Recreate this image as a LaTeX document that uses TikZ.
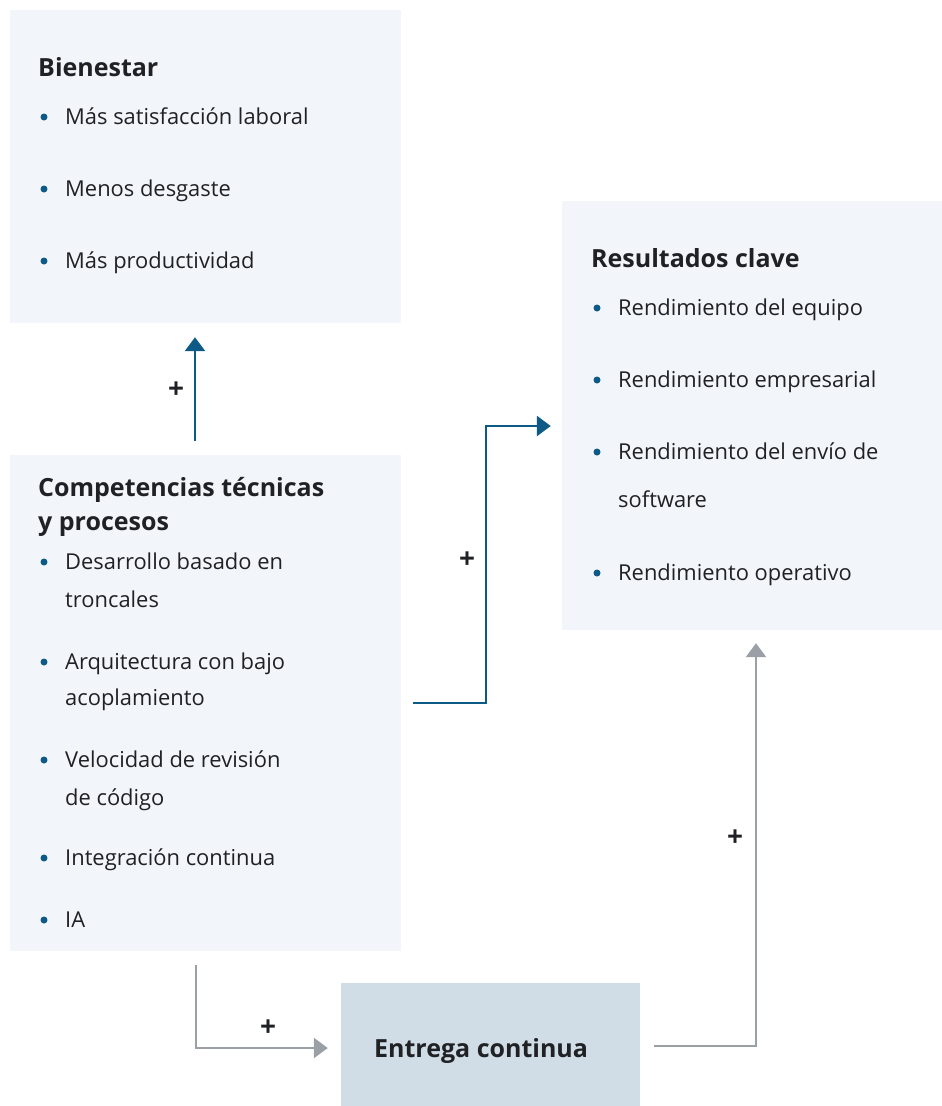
\documentclass[tikz,border=0pt]{standalone}
\usepackage{fontspec}
\setmainfont{Open Sans}
\usetikzlibrary{arrows.meta,positioning}
\definecolor{panelfill}{HTML}{F2F6FA}
\definecolor{hubfill}{HTML}{D0DDE6}
\definecolor{linkblue}{HTML}{0E5A87}
\definecolor{linkgray}{HTML}{9AA0A6}
\definecolor{ink}{HTML}{202124}
\tikzset{
  panel/.style={rectangle,fill=panelfill,draw=none,inner sep=0pt},
  hub/.style={rectangle,fill=hubfill,draw=none,inner sep=0pt},
  heading/.style={anchor=base west,inner sep=0pt,text=ink,font=\fontsize{25}{30}\selectfont\bfseries},
  entry/.style={anchor=base west,inner sep=0pt,text=ink,font=\fontsize{21.9}{26}\selectfont},
  dot/.style={circle,fill=linkblue,inner sep=0pt,minimum size=7pt},
  plus/.style={inner sep=0pt,text=ink,font=\fontsize{28}{32}\selectfont\bfseries},
  link/.style={draw=linkblue,line width=2.5pt,-{Triangle[width=20pt,length=14pt]}},
  flow/.style={draw=linkgray,line width=2.5pt,-{Triangle[width=20pt,length=14pt]}}
}
\begin{document}
\begin{tikzpicture}[x=1pt,y=-1pt]
\useasboundingbox (0,0) rectangle (942,1106);
% boxes
\node (wellbeing) [panel,minimum width=391pt,minimum height=313pt] at (205.5,166.5) {};
\node (outcomes) [panel,minimum width=380pt,minimum height=429pt] at (752,415.5) {};
\node (practices) [panel,minimum width=391pt,minimum height=496pt] at (205.5,703) {};
\node (delivery) [hub,minimum width=299pt,minimum height=123pt] at (490.5,1044.5) {};
%
\node (wellbeingTitle) [heading] at (38,76) {Bienestar};
\foreach \n/\y/\t in {w1/124/Más satisfacción laboral,w2/196/Menos desgaste,w3/268/Más productividad} {
  \node (\n) [entry] at (65,\y) {\t};
  \node (\n dot) [dot] at (44,\y-7) {};
}
%
\node (outcomesTitle) [heading] at (591,267) {Resultados clave};
\foreach \n/\y/\t in {o1/315/Rendimiento del equipo,o2/387/Rendimiento empresarial,o3/459/Rendimiento del envío de,o4/580/Rendimiento operativo} {
  \node (\n) [entry] at (618,\y) {\t};
  \node (\n dot) [dot] at (597,\y-7) {};
}
\node (o3b) [entry] at (618,507) {software};
%
\node (practicesTitle) [heading] at (38,496) {Competencias técnicas};
\node (practicesTitleb) [heading] at (38,530) {y procesos};
\foreach \n/\y/\t in {p1/569/Desarrollo basado en,p2/669/Arquitectura con bajo,p3/767/Velocidad de revisión,p4/865/Integración continua,p5/927/IA} {
  \node (\n) [entry] at (65,\y) {\t};
  \node (\n dot) [dot] at (44,\y-7) {};
}
\node (p1b) [entry] at (65,607) {troncales};
\node (p2b) [entry] at (65,705) {acoplamiento};
\node (p3b) [entry] at (65,805) {de código};
%
\node (deliveryTitle) [heading] at (374,1057) {Entrega continua};
% links
\draw[link] ([xshift=-10.5pt,yshift=14pt]practices.north) -- ([xshift=-10.5pt,yshift=-14pt]wellbeing.south);
\draw[link] ([xshift=12pt]practices.east) -| ([xshift=-76pt,yshift=-10.5pt]outcomes.west) -- ([xshift=-11pt,yshift=-10.5pt]outcomes.west);
\draw[flow] ([xshift=-9.5pt,yshift=-14pt]practices.south) |- ([xshift=-13pt,yshift=-3.5pt]delivery.west);
\draw[flow] ([xshift=14pt,yshift=-1.5pt]delivery.east) -| ([xshift=4pt,yshift=-13pt]outcomes.south);
\node (plus1) [plus] at (176,390) {+};
\node (plus2) [plus] at (467,560) {+};
\node (plus3) [plus] at (268,1028) {+};
\node (plus4) [plus] at (735,838) {+};
\end{tikzpicture}
\end{document}
